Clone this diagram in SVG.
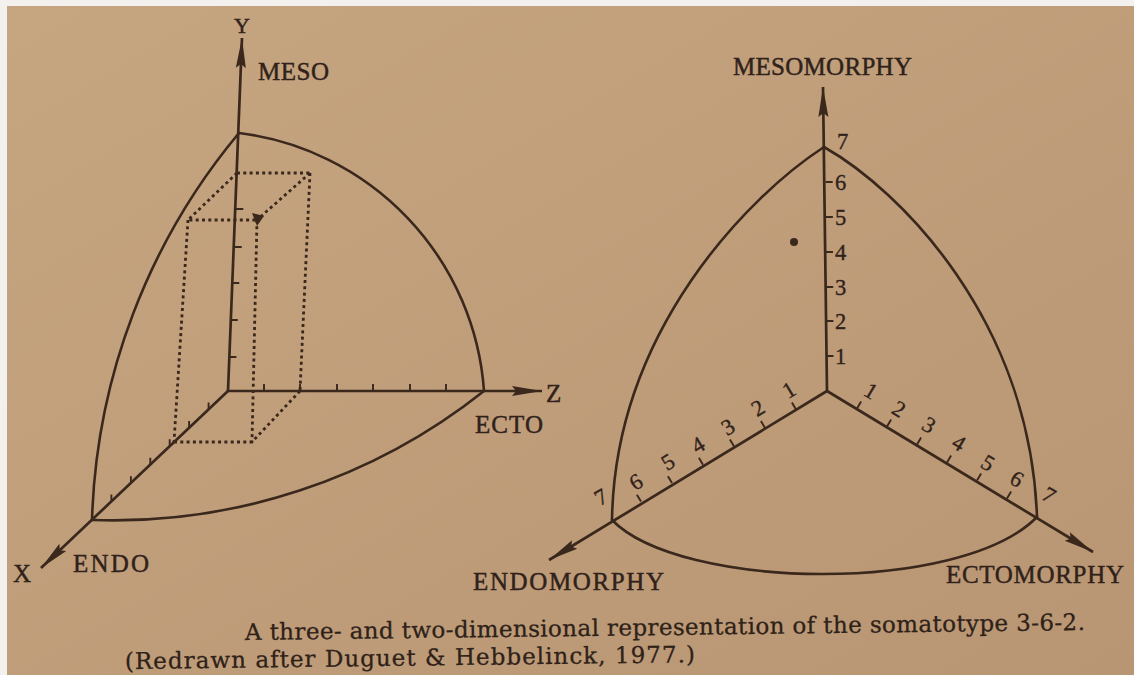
<svg xmlns="http://www.w3.org/2000/svg" width="1134" height="675" viewBox="0 0 1134 675">
<defs>
<linearGradient id="paper" x1="0" y1="0" x2="1" y2="1">
<stop offset="0" stop-color="#c6a581"/>
<stop offset="1" stop-color="#b99673"/>
</linearGradient>
<marker id="arr" markerUnits="userSpaceOnUse" markerWidth="32" markerHeight="14" viewBox="0 0 32 14" refX="30" refY="7" orient="auto">
<path d="M0,2 L30,7 L0,12 L4,7 Z" fill="#3a281d"/>
</marker>
</defs>
<style>
.ink{stroke:#3a281d;fill:none;stroke-width:2.6;stroke-linecap:round}
.axis{stroke:#3a281d;fill:none;stroke-width:2.7}
.tick{stroke:#3a281d;stroke-width:1.9;fill:none}
.dots{stroke:#3a281d;stroke-width:2.8;stroke-dasharray:3 3.3;fill:none}
.lbl{font-family:"Liberation Serif","Times New Roman",serif;font-size:25px;fill:#30221a;stroke:#30221a;stroke-width:0.45}
.num{font-family:"Liberation Serif","Times New Roman",serif;font-size:22.5px;fill:#30221a;stroke:#30221a;stroke-width:0.35}
.cap{font-family:"DejaVu Serif",serif;font-size:23px;fill:#2e2118;stroke:#2e2118;stroke-width:0.3}
</style>
<rect x="0" y="0" width="1134" height="675" fill="#f3f1ee"/>
<rect x="7" y="6" width="1127" height="669" fill="url(#paper)"/>

<g id="left-diagram">
  <g id="left-surface">
    <path class="ink" d="M239,133 A280,280 0 0 1 484,391"/>
    <path class="ink" d="M239,133 A633,633 0 0 0 92,520"/>
    <path class="ink" d="M92,520 A595,595 0 0 0 484,391"/>
  </g>
  <g id="left-box">
    <path class="dots" d="M237,173 H310"/>
    <path class="dots" d="M237,173 L188,220 H258"/>
    <path class="dots" d="M310,173 L258,219"/>
    <path class="dots" d="M188,220 L174,442"/>
    <path class="dots" d="M257,220 L252,442"/>
    <path class="dots" d="M310,173 L300,391"/>
    <path class="dots" d="M174,442 H252 L300,391"/>
    <path d="M252,213 L264,216 L257,226 Z" fill="#3a281d"/>
  </g>
  <g id="left-ticks">
    <path class="tick" d="M229.4,357h7 M230.8,320h7 M232.3,283h7 M233.7,247h8 M235.3,209h8"/>
    <path class="tick" d="M264,391v-7 M300,391v-7 M337,391v-7 M373,391v-7 M410,391v-7 M446,391v-7"/>
    <path class="tick" d="M208.6,409.4v-7 M189.1,427.9v-7 M169.7,446.3v-7 M150.3,464.7v-7 M130.9,483.2v-7 M111.4,501.6v-7"/>
  </g>
  <g id="left-labels">
    <text class="lbl" x="242" y="33" text-anchor="middle" style="font-size:22px">Y</text>
    <text class="lbl" x="258" y="80" textLength="71">MESO</text>
    <text class="lbl" x="546" y="402">Z</text>
    <text class="lbl" x="475" y="433" textLength="68">ECTO</text>
    <text class="lbl" x="13" y="582">X</text>
    <text class="lbl" x="73" y="572" textLength="76">ENDO</text>
  </g>
</g>

<g id="right-diagram">
  <g id="right-surface">
    <path class="ink" d="M824,147 C750,195 615,330 612,520"/>
    <path class="ink" d="M824,147 C900,190 1030,320 1037,517"/>
    <path class="ink" d="M612,520 C680,590 960,595 1037,517"/>
  </g>
  <circle id="somatotype-point" cx="794" cy="242" r="4" fill="#3a281d"/>
  <g id="meso-scale">
    <path class="tick" d="M826.5,356h7 M826.4,321h7 M826.2,287h7 M826,252h7 M825.9,217h7 M825.7,182h7"/>
    <text class="num" x="835" y="364">1</text>
    <text class="num" x="835" y="329">2</text>
    <text class="num" x="835" y="295">3</text>
    <text class="num" x="835" y="260">4</text>
    <text class="num" x="835" y="225">5</text>
    <text class="num" x="835" y="190">6</text>
    <text class="num" x="837" y="149">7</text>
  </g>
  <g id="endo-scale">
    <path class="tick" d="M796,409.4 l-4.1,-6.9 M765,427.9 l-4.1,-6.9 M734,446.3 l-4.1,-6.9 M703,464.7 l-4.1,-6.9 M672,483.1 l-4.1,-6.9 M641,501.6 l-4.1,-6.9"/>
    <text class="num" x="789" y="390" text-anchor="middle" dominant-baseline="central" transform="rotate(-31 789 390)">1</text>
    <text class="num" x="758" y="408" text-anchor="middle" dominant-baseline="central" transform="rotate(-31 758 408)">2</text>
    <text class="num" x="728" y="427" text-anchor="middle" dominant-baseline="central" transform="rotate(-31 728 427)">3</text>
    <text class="num" x="698" y="445" text-anchor="middle" dominant-baseline="central" transform="rotate(-31 698 445)">4</text>
    <text class="num" x="668" y="462" text-anchor="middle" dominant-baseline="central" transform="rotate(-31 668 462)">5</text>
    <text class="num" x="636" y="482" text-anchor="middle" dominant-baseline="central" transform="rotate(-31 636 482)">6</text>
    <text class="num" x="601" y="497" text-anchor="middle" dominant-baseline="central" transform="rotate(-31 601 497)">7</text>
  </g>
  <g id="ecto-scale">
    <path class="tick" d="M857,408.5 l4.1,-6.9 M887,426.5 l4.1,-6.9 M917,444.5 l4.1,-6.9 M947,462.5 l4.1,-6.9 M977,480.5 l4.1,-6.9 M1007,498.5 l4.1,-6.9"/>
    <text class="num" x="871" y="391" text-anchor="middle" dominant-baseline="central" transform="rotate(31 871 391)">1</text>
    <text class="num" x="899" y="409" text-anchor="middle" dominant-baseline="central" transform="rotate(31 899 409)">2</text>
    <text class="num" x="929" y="425" text-anchor="middle" dominant-baseline="central" transform="rotate(31 929 425)">3</text>
    <text class="num" x="959" y="443" text-anchor="middle" dominant-baseline="central" transform="rotate(31 959 443)">4</text>
    <text class="num" x="988" y="463" text-anchor="middle" dominant-baseline="central" transform="rotate(31 988 463)">5</text>
    <text class="num" x="1017" y="479" text-anchor="middle" dominant-baseline="central" transform="rotate(31 1017 479)">6</text>
    <text class="num" x="1049" y="495" text-anchor="middle" dominant-baseline="central" transform="rotate(31 1049 495)">7</text>
  </g>
  <g id="right-labels">
    <text class="lbl" x="733" y="75" textLength="179">MESOMORPHY</text>
    <text class="lbl" x="473" y="590" textLength="191">ENDOMORPHY</text>
    <text class="lbl" x="946" y="583" textLength="178">ECTOMORPHY</text>
  </g>
</g>

<g id="connectors">
  <line class="axis" x1="228" y1="391" x2="242" y2="38" marker-end="url(#arr)"/>
  <line class="axis" x1="228" y1="391" x2="542" y2="391" marker-end="url(#arr)"/>
  <line class="axis" x1="228" y1="391" x2="41" y2="568" marker-end="url(#arr)"/>
  <line class="axis" x1="827" y1="391" x2="823" y2="87" marker-end="url(#arr)"/>
  <line class="axis" x1="827" y1="391" x2="549" y2="560" marker-end="url(#arr)"/>
  <line class="axis" x1="827" y1="391" x2="1093" y2="552" marker-end="url(#arr)"/>
</g>

<g id="caption">
  <text class="cap" x="245" y="640" textLength="840" transform="rotate(-0.68 245 640)">A three- and two-dimensional representation of the somatotype 3-6-2.</text>
  <text class="cap" x="125" y="669" textLength="570" transform="rotate(-0.68 125 669)">(Redrawn after Duguet &amp; Hebbelinck, 1977.)</text>
</g>
</svg>
